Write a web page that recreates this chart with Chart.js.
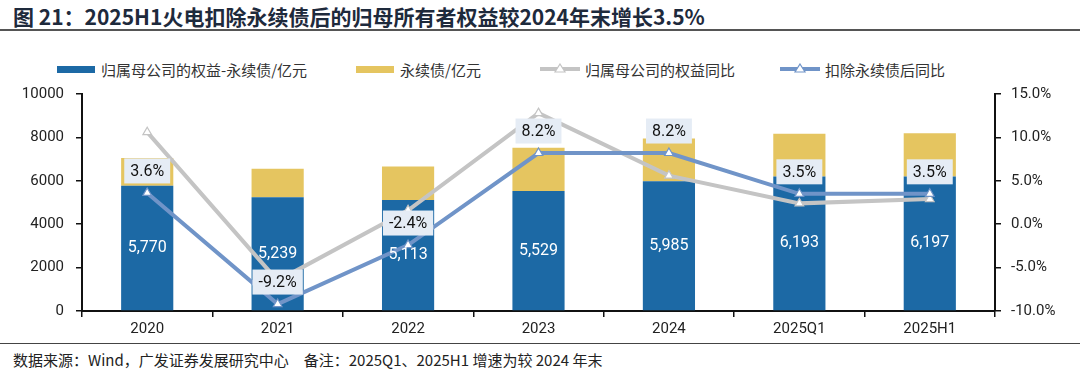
<!DOCTYPE html>
<html lang="zh">
<head>
  <meta charset="UTF-8" />
  <title>归母所有者权益</title>
  <script src="https://cdn.jsdelivr.net/npm/chart.js"></script>
  <style>
    body {
      margin: 0;
      width: 1080px;
      height: 378px;
      background: #fff;
      position: relative;
      overflow: hidden;
      font-family: 'Noto Sans CJK SC', 'Roboto', sans-serif;
    }
    .title {
      position: absolute;
      left: 13px;
      top: 1px;
      font-size: 21px;
      font-weight: bold;
      color: #1e2a3c;
      white-space: nowrap;
    }
    .rule-top {
      position: absolute;
      left: 0;
      right: 0;
      top: 29px;
      height: 2px;
      background: #555;
    }
    .legend {
      position: absolute;
      top: 58px;
      left: 0;
      width: 1080px;
      height: 22px;
      font-size: 15px;
      color: #333;
    }
    .legend .item {
      position: absolute;
      top: 0;
      display: flex;
      align-items: center;
      height: 22px;
      white-space: nowrap;
    }
    .legend .swatch {
      display: inline-block;
      width: 38px;
      height: 7px;
      margin-right: 6px;
    }
    .legend svg { margin-right: 5px; }
    .chart-wrap {
      position: absolute;
      left: 0;
      top: 73px;
      width: 1080px;
      height: 267px;
    }
    .rule-bottom {
      position: absolute;
      left: 0;
      right: 0;
      top: 343px;
      height: 1px;
      background: #444;
    }
    .footer {
      position: absolute;
      left: 13px;
      top: 349px;
      font-size: 15px;
      color: #222;
      white-space: nowrap;
    }
  </style>
</head>
<body>
  <div class="title">图 21：2025H1火电扣除永续债后的归母所有者权益较2024年末增长3.5%</div>
  <div class="rule-top"></div>

  <div class="legend">
    <div class="item" style="left:57px"><span class="swatch" style="background:#1c69a5"></span>归属母公司的权益-永续债/亿元</div>
    <div class="item" style="left:356px"><span class="swatch" style="background:#e5c560"></span>永续债/亿元</div>
    <div class="item" style="left:540px">
      <svg width="40" height="12"><line x1="0" y1="6" x2="40" y2="6" stroke="#c4c4c4" stroke-width="4"/><polygon points="20,1 25,9 15,9" fill="#fff" stroke="#c4c4c4" stroke-width="1.2"/></svg>归属母公司的权益同比
    </div>
    <div class="item" style="left:780px">
      <svg width="40" height="12"><line x1="0" y1="6" x2="40" y2="6" stroke="#7094c8" stroke-width="4"/><polygon points="20,1 25,9 15,9" fill="#fff" stroke="#7094c8" stroke-width="1.2"/></svg>扣除永续债后同比
    </div>
  </div>

  <div class="chart-wrap"><canvas id="equityChart" width="1080" height="267"></canvas></div>

  <div class="rule-bottom"></div>
  <div class="footer">数据来源：Wind，广发证券发展研究中心　备注：2025Q1、2025H1 增速为较 2024 年末</div>

  <script>
    const categories = ['2020', '2021', '2022', '2023', '2024', '2025Q1', '2025H1'];
    const equityExPerp = [5770, 5239, 5113, 5529, 5985, 6193, 6197];   // 归属母公司的权益-永续债/亿元
    const perpBonds = [1280, 1320, 1550, 1990, 1965, 1970, 2000];      // 永续债/亿元
    const equityYoY = [10.6, -6.5, 1.6, 12.8, 5.6, 2.4, 2.9];          // 归属母公司的权益同比 %
    const exPerpYoY = [3.6, -9.2, -2.4, 8.2, 8.2, 3.5, 3.5];           // 扣除永续债后同比 %
    const leftTicks = [0, 2000, 4000, 6000, 8000, 10000];
    const rightTicks = [-10, -5, 0, 5, 10, 15];

    const tickFont = { family: 'Roboto, Arial, sans-serif', size: 15 };

    // white numbers inside the blue bars, boxed labels above the blue line
    const valueLabels = {
      id: 'valueLabels',
      afterDatasetsDraw(chart) {
        const ctx = chart.ctx;
        ctx.save();
        ctx.font = '16px Roboto, Arial, sans-serif';
        ctx.textAlign = 'center';
        ctx.textBaseline = 'middle';

        chart.getDatasetMeta(0).data.forEach((el, i) => {
          ctx.fillStyle = '#ffffff';
          ctx.fillText(equityExPerp[i].toLocaleString('en-US'), el.x, (el.y + el.base) / 2);
        });

        chart.getDatasetMeta(3).data.forEach((el, i) => {
          const txt = exPerpYoY[i].toFixed(1) + '%';
          const w = ctx.measureText(txt).width + 12;
          const h = 25;
          const cy = el.y - 22;
          ctx.fillStyle = '#e5ecf5';
          ctx.fillRect(el.x - w / 2, cy - h / 2, w, h);
          ctx.fillStyle = '#111';
          ctx.fillText(txt, el.x, cy + 1);
        });
        ctx.restore();
      }
    };

    new Chart(document.getElementById('equityChart'), {
      type: 'bar',
      data: {
        labels: categories,
        datasets: [
          {
            label: '归属母公司的权益-永续债/亿元',
            data: equityExPerp,
            backgroundColor: '#1c69a5',
            stack: 'eq',
            yAxisID: 'y',
            barPercentage: 0.4,
            categoryPercentage: 1,
            order: 3
          },
          {
            label: '永续债/亿元',
            data: perpBonds,
            backgroundColor: '#e5c560',
            stack: 'eq',
            yAxisID: 'y',
            barPercentage: 0.4,
            categoryPercentage: 1,
            order: 3
          },
          {
            type: 'line',
            label: '归属母公司的权益同比',
            data: equityYoY,
            yAxisID: 'y2',
            borderColor: '#c4c4c4',
            borderWidth: 4,
            pointStyle: 'triangle',
            pointRadius: 5,
            pointBackgroundColor: '#fff',
            pointBorderColor: '#c4c4c4',
            pointBorderWidth: 1.2,
            tension: 0,
            order: 2
          },
          {
            type: 'line',
            label: '扣除永续债后同比',
            data: exPerpYoY,
            yAxisID: 'y2',
            borderColor: '#7094c8',
            borderWidth: 4,
            pointStyle: 'triangle',
            pointRadius: 5,
            pointBackgroundColor: '#fff',
            pointBorderColor: '#7094c8',
            pointBorderWidth: 1.2,
            tension: 0,
            order: 1
          }
        ]
      },
      options: {
        responsive: false,
        animation: false,
        layout: { padding: { top: 6, bottom: 0, left: 0, right: 0 } },
        plugins: {
          legend: { display: false },
          tooltip: { enabled: false }
        },
        scales: {
          x: {
            stacked: true,
            grid: { offset: true, drawOnChartArea: false, drawTicks: true, tickLength: 6, color: '#111', lineWidth: 1.5 },
            border: { display: true, color: '#111', width: 2 },
            ticks: { color: '#222', font: tickFont, padding: 3 },
            afterFit: s => { s.height = 29; }
          },
          y: {
            stacked: true,
            position: 'left',
            min: 0,
            max: 10000,
            afterBuildTicks: s => { s.ticks = leftTicks.map(v => ({ value: v })); },
            grid: { drawOnChartArea: false, tickLength: 6, color: '#111', lineWidth: 1.5 },
            border: { display: true, color: '#111', width: 2 },
            ticks: { color: '#222', font: tickFont, padding: 12, callback: v => String(v) },
            afterFit: s => { s.width = 82; }
          },
          y2: {
            position: 'right',
            min: -10,
            max: 15,
            afterBuildTicks: s => { s.ticks = rightTicks.map(v => ({ value: v })); },
            grid: { drawOnChartArea: false, tickLength: 6, color: '#111', lineWidth: 1.5 },
            border: { display: true, color: '#111', width: 2 },
            ticks: { color: '#222', font: tickFont, padding: 10, callback: v => v.toFixed(1) + '%' },
            afterFit: s => { s.width = 85; }
          }
        }
      },
      plugins: [valueLabels]
    });
  </script>
</body>
</html>
